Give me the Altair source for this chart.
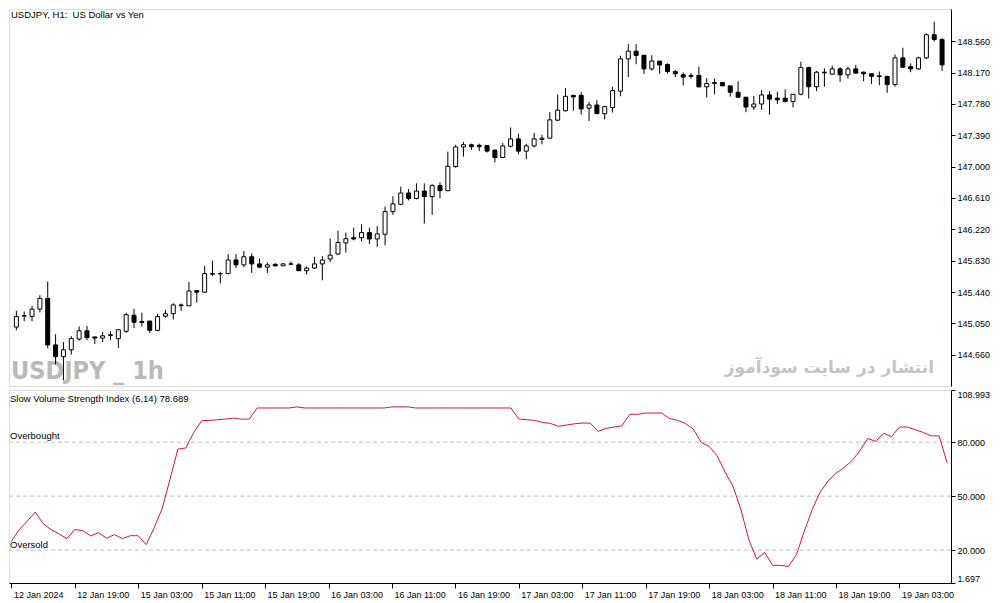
import altair as alt
import pandas as pd

opens = [145.004, 145.140, 145.138, 145.227, 145.361, 144.782, 144.636, 144.721, 144.855, 144.958,
         144.881, 144.867, 144.899, 144.859, 144.952, 145.151, 145.073, 145.079, 144.964, 145.140,
         145.170, 145.271, 145.269, 145.457, 145.438, 145.662, 145.666, 145.669, 145.839, 145.778,
         145.879, 145.790, 145.750, 145.784, 145.766, 145.786, 145.778, 145.705, 145.738, 145.790,
         145.851, 145.912, 146.051, 146.116, 146.116, 146.179, 146.100, 146.159, 146.440, 146.532,
         146.672, 146.604, 146.696, 146.628, 146.764, 146.701, 147.001, 147.245, 147.272, 147.266,
         147.262, 147.205, 147.114, 147.254, 147.345, 147.193, 147.258, 147.339, 147.354, 147.578,
         147.695, 147.887, 147.887, 147.727, 147.767, 147.659, 147.734, 147.939, 148.340, 148.436,
         148.386, 148.216, 148.313, 148.272, 148.183, 148.143, 148.135, 148.135, 147.993, 148.034,
         148.046, 148.005, 147.925, 147.864, 147.742, 147.779, 147.892, 147.852, 147.852, 147.810,
         147.900, 148.232, 147.993, 148.167, 148.151, 148.216, 148.143, 148.216, 148.175, 148.155,
         148.129, 148.123, 148.022, 148.353, 148.244, 148.216, 148.353, 148.641, 148.581]
highs = [145.207, 145.198, 145.268, 145.401, 145.571, 144.915, 144.818, 144.891, 145.012, 145.018,
         144.885, 144.943, 144.952, 144.971, 145.183, 145.231, 145.183, 145.079, 145.170, 145.219,
         145.300, 145.297, 145.566, 145.457, 145.766, 145.830, 145.693, 145.912, 145.912, 145.950,
         145.919, 145.858, 145.807, 145.799, 145.796, 145.819, 145.799, 145.758, 145.879, 145.887,
         146.106, 146.203, 146.179, 146.240, 146.283, 146.240, 146.260, 146.504, 146.632, 146.752,
         146.721, 146.792, 146.792, 146.781, 146.804, 147.186, 147.273, 147.306, 147.286, 147.286,
         147.262, 147.213, 147.296, 147.486, 147.406, 147.284, 147.418, 147.397, 147.678, 147.895,
         147.976, 147.887, 147.927, 147.807, 147.826, 147.758, 147.995, 148.380, 148.524, 148.524,
         148.386, 148.386, 148.313, 148.284, 148.204, 148.171, 148.163, 148.244, 148.102, 148.095,
         148.046, 148.005, 148.062, 147.864, 147.880, 147.953, 147.940, 147.932, 147.961, 147.900,
         148.305, 148.244, 148.192, 148.223, 148.256, 148.236, 148.244, 148.265, 148.183, 148.155,
         148.183, 148.131, 148.394, 148.479, 148.284, 148.366, 148.657, 148.803, 148.600]
lows = [144.964, 145.077, 145.077, 145.186, 144.741, 144.539, 144.344, 144.660, 144.836, 144.842,
        144.794, 144.818, 144.842, 144.745, 144.931, 144.992, 145.012, 144.931, 144.952, 145.122,
        145.098, 145.207, 145.269, 145.309, 145.438, 145.638, 145.547, 145.669, 145.738, 145.750,
        145.678, 145.738, 145.678, 145.758, 145.766, 145.778, 145.705, 145.658, 145.727, 145.586,
        145.811, 145.899, 145.931, 146.083, 146.071, 146.039, 146.003, 146.021, 146.400, 146.520,
        146.580, 146.592, 146.292, 146.400, 146.604, 146.693, 146.985, 147.126, 147.205, 147.193,
        147.175, 147.054, 147.114, 147.237, 147.157, 147.092, 147.237, 147.277, 147.354, 147.566,
        147.686, 147.695, 147.646, 147.566, 147.659, 147.586, 147.674, 147.875, 148.114, 148.274,
        148.153, 148.196, 148.155, 148.155, 148.114, 148.010, 148.095, 147.985, 147.859, 147.900,
        148.005, 147.871, 147.852, 147.677, 147.706, 147.706, 147.645, 147.779, 147.798, 147.737,
        147.888, 147.847, 147.940, 147.993, 148.143, 148.053, 148.095, 148.163, 148.062, 148.029,
        148.013, 147.920, 147.993, 148.236, 148.175, 148.204, 148.338, 148.556, 148.192]
closes = [145.134, 145.146, 145.227, 145.361, 144.782, 144.636, 144.721, 144.861, 144.958, 144.873,
          144.867, 144.895, 144.909, 144.971, 145.158, 145.064, 145.061, 144.964, 145.134, 145.170,
          145.280, 145.280, 145.453, 145.438, 145.669, 145.669, 145.670, 145.839, 145.778, 145.879,
          145.790, 145.750, 145.778, 145.766, 145.790, 145.790, 145.705, 145.738, 145.790, 145.839,
          145.899, 146.057, 146.103, 146.100, 146.179, 146.100, 146.163, 146.440, 146.536, 146.672,
          146.604, 146.696, 146.628, 146.764, 146.701, 147.005, 147.245, 147.273, 147.248, 147.248,
          147.193, 147.114, 147.258, 147.345, 147.193, 147.258, 147.345, 147.354, 147.582, 147.702,
          147.875, 147.867, 147.718, 147.767, 147.659, 147.746, 147.946, 148.340, 148.436, 148.384,
          148.216, 148.313, 148.265, 148.183, 148.155, 148.114, 148.123, 147.993, 148.034, 148.046,
          148.005, 147.925, 147.864, 147.742, 147.779, 147.892, 147.840, 147.831, 147.810, 147.900,
          148.232, 147.993, 148.175, 148.175, 148.216, 148.143, 148.216, 148.163, 148.155, 148.123,
          148.123, 148.022, 148.353, 148.236, 148.216, 148.353, 148.641, 148.581, 148.265]
svsi = [24.9, 31.4, 36.1, 41.1, 34.7, 31.4, 29.0, 26.4, 31.4, 30.8,
        27.9, 29.7, 26.6, 28.6, 26.4, 28.0, 28.0, 23.0, 32.3, 42.9,
        59.3, 76.1, 76.8, 85.4, 91.9, 92.1, 92.5, 92.8, 93.4, 92.8,
        92.8, 99.0, 99.0, 99.0, 99.0, 99.0, 99.6, 99.0, 99.0, 99.0,
        99.0, 99.0, 99.0, 99.0, 99.0, 99.0, 99.0, 99.0, 99.6, 99.6,
        99.6, 99.0, 99.0, 99.0, 99.0, 99.0, 99.0, 99.0, 99.0, 99.0,
        99.0, 99.0, 99.0, 99.0, 92.8, 92.5, 92.1, 91.0, 90.4, 88.8,
        89.5, 90.2, 90.6, 90.6, 86.0, 87.6, 88.4, 89.1, 95.5, 95.5,
        96.2, 96.2, 96.2, 93.2, 92.1, 90.4, 87.3, 79.8, 77.6, 72.4,
        63.4, 55.6, 42.6, 25.8, 15.0, 18.7, 11.5, 11.5, 10.9, 17.4,
        30.5, 42.6, 52.3, 58.4, 62.7, 65.8, 69.6, 75.2, 82.0, 80.4,
        85.0, 83.0, 88.4, 88.4, 86.9, 85.4, 83.5, 83.5, 68.6]

time_labels = ["12 Jan 2024", "12 Jan 19:00", "15 Jan 03:00", "15 Jan 11:00", "15 Jan 19:00",
               "16 Jan 03:00", "16 Jan 11:00", "16 Jan 19:00", "17 Jan 03:00", "17 Jan 11:00",
               "17 Jan 19:00", "18 Jan 03:00", "18 Jan 11:00", "18 Jan 19:00", "19 Jan 03:00"]
label_bars = [0, 8, 16, 24, 32, 40, 48, 56, 64, 72, 80, 88, 96, 104, 112]
price_ticks = [144.660, 145.050, 145.440, 145.830, 146.220, 146.610, 147.000,
               147.390, 147.780, 148.170, 148.560]
ind_ticks = [1.697, 20.0, 50.0, 80.0, 108.993]
levels = [80, 50, 20]
price_domain = [144.271, 148.961]
ind_domain = [1.697, 108.993]

chart_title = ["USDJPY, H1:\u00a0\u00a0US Dollar vs Yen"]
ind_title = ["Slow Volume Strength Index (6,14) 78.689"]
watermark = ["USDJPY _ 1h"]
site_text = ["انتشار در سایت سودآموز"]

FONT = "Liberation Sans"
W, H1, H2 = 942, 377, 193

bars = list(range(len(opens)))
df = pd.DataFrame({"bar": bars, "open": opens, "high": highs, "low": lows, "close": closes})
ind = pd.DataFrame({"bar": bars, "svsi": svsi})

xs = alt.Scale(domain=[-0.3, 118.5], nice=False, zero=False)
ys = alt.Scale(domain=price_domain, nice=False, zero=False)
ys2 = alt.Scale(domain=ind_domain, nice=False, zero=False)


def price_axis():
    return alt.Axis(orient="right", values=price_ticks, format=".3f", title=None, grid=False,
                    tickSize=4, labelPadding=2, labelFont=FONT, labelFontSize=9,
                    labelColor="black", tickColor="black", domainColor="black",
                    labelFlush=False)


def ind_axis():
    return alt.Axis(orient="right", values=ind_ticks, format=".3f", title=None, grid=False,
                    tickSize=4, labelPadding=2, labelFont=FONT, labelFontSize=9,
                    labelColor="black", tickColor="black", domainColor="black",
                    labelFlush=True)


label_js = "[" + ",".join("'" + t + "'" for t in time_labels) + "]"
x_axis = alt.Axis(values=label_bars, labelExpr=label_js + "[round(datum.value/8)]",
                  labelAlign="left", labelFlush=False, labelOffset=2, tickSize=5,
                  labelPadding=2, grid=False, title=None, labelFont=FONT, labelFontSize=9,
                  labelColor="black", tickColor="black", domainColor="black")

base = alt.Chart(df)
wm = alt.Chart(pd.DataFrame({"t": watermark})).mark_text(
    font="Liberation Sans Narrow, DejaVu Sans Condensed, Liberation Sans, Arial, sans-serif",
    fontWeight="bold", fontSize=25, color="#b9b9b9",
    align="left", baseline="alphabetic").encode(
    x=alt.value(2), y=alt.value(370), text="t:N")
site = alt.Chart(pd.DataFrame({"t": site_text})).mark_text(
    font="DejaVu Sans", fontWeight="bold", fontSize=17, color="#c4c4c4",
    align="right", baseline="alphabetic").encode(
    x=alt.value(925), y=alt.value(364), text="t:N")
ttl = alt.Chart(pd.DataFrame({"t": chart_title})).mark_text(
    font=FONT, fontSize=9.5, color="black", align="left", baseline="top").encode(
    x=alt.value(2), y=alt.value(1), text="t:N")

wick = base.mark_rule(color="black", strokeWidth=1).encode(
    x=alt.X("bar:Q", scale=xs, axis=None),
    y=alt.Y("low:Q", scale=ys, axis=price_axis()),
    y2="high:Q")
body = base.mark_bar(size=4, stroke="black", strokeWidth=1).encode(
    x=alt.X("bar:Q", scale=xs, axis=None),
    y=alt.Y("open:Q", scale=ys, axis=price_axis()),
    y2="close:Q",
    fill=alt.condition("datum.close >= datum.open", alt.value("white"), alt.value("black")))

top = alt.layer(wm, site, wick, body, ttl).properties(width=W, height=H1)

lv = alt.Chart(pd.DataFrame({"level": levels})).mark_rule(
    color="#c0c0c0", strokeWidth=1, strokeDash=[4, 3]).encode(
    y=alt.Y("level:Q", scale=ys2, axis=ind_axis()))
line = alt.Chart(ind).mark_line(color="#DC143C", strokeWidth=1, interpolate="linear").encode(
    x=alt.X("bar:Q", scale=xs, axis=x_axis),
    y=alt.Y("svsi:Q", scale=ys2, axis=ind_axis()))
ttl2 = alt.Chart(pd.DataFrame({"t": ind_title})).mark_text(
    font=FONT, fontSize=9.5, color="black", align="left", baseline="middle").encode(
    x=alt.value(1), y=alt.value(9), text="t:N")
ob = alt.Chart(pd.DataFrame({"t": ["Overbought"]})).mark_text(
    font=FONT, fontSize=9.5, color="black", align="left", baseline="middle").encode(
    x=alt.value(1), y=alt.value(46), text="t:N")
os_ = alt.Chart(pd.DataFrame({"t": ["Oversold"]})).mark_text(
    font=FONT, fontSize=9.5, color="black", align="left", baseline="middle").encode(
    x=alt.value(1), y=alt.value(155), text="t:N")

bottom = alt.layer(lv, line, ttl2, ob, os_).properties(width=W, height=H2)

chart = alt.vconcat(top, bottom, spacing=2).properties(
    padding={"left": 0, "top": 0, "right": 4, "bottom": 4}
).configure_view(stroke="black", strokeWidth=1).configure(background="white")

chart.save("out.html", embed_options={"renderer": "svg", "actions": False})
